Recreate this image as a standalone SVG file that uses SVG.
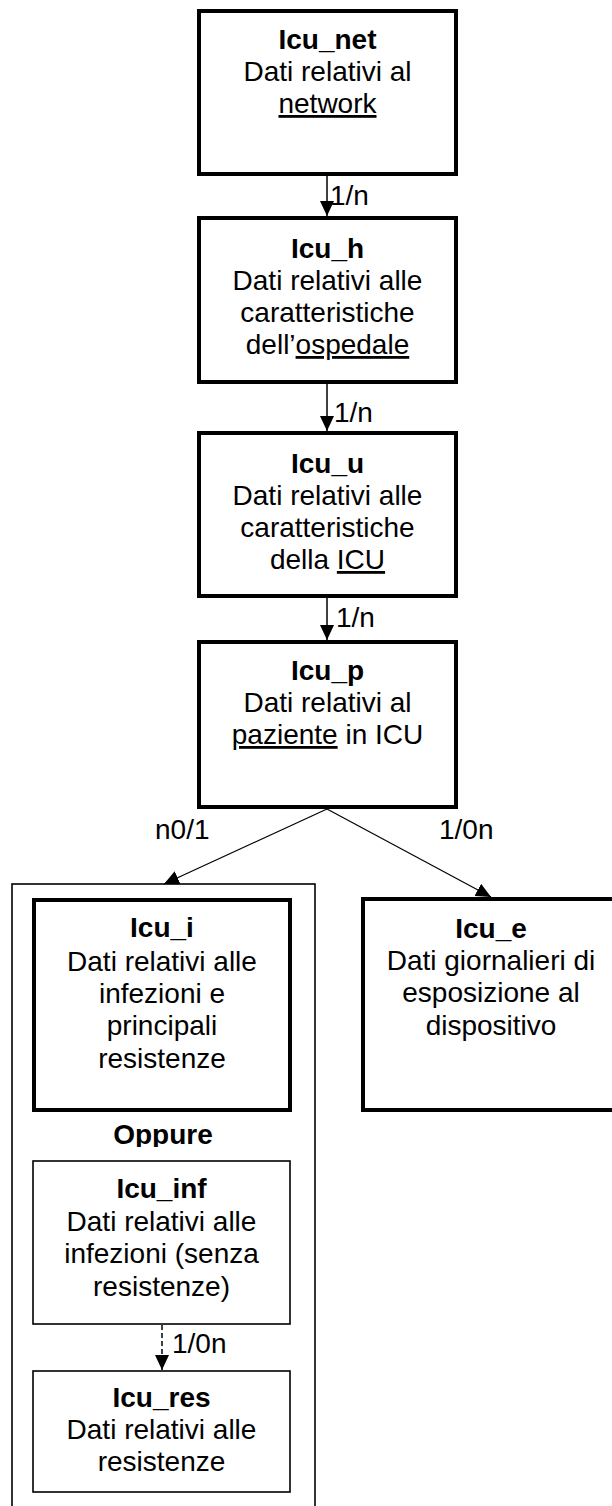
<svg xmlns="http://www.w3.org/2000/svg" width="612" height="1506" viewBox="0 0 612 1506">
  <style>
    text { font-family: "Liberation Sans", Arial, Helvetica, sans-serif; font-size: 28px; fill: #000; }
    .c { text-anchor: middle; }
    .b { font-weight: bold; }
    .u { text-decoration: underline; }
    .thick { fill: #fff; stroke: #000; stroke-width: 4; }
    .thin { fill: #fff; stroke: #000; stroke-width: 1.6; }
    .link { fill: none; stroke: #000; stroke-width: 1.5; }
    .diag { fill: none; stroke: #000; stroke-width: 1.2; }
    .dash { fill: none; stroke: #000; stroke-width: 1.5; stroke-dasharray: 5 3; }
  </style>
  <defs>
    <marker id="head" viewBox="0 0 15 14" refX="15" refY="7" markerWidth="15" markerHeight="14" markerUnits="userSpaceOnUse" orient="auto">
      <path d="M0,0 L15,7 L0,14 z" fill="#000"/>
    </marker>
    <clipPath id="clipOppure">
      <rect x="12" y="1110" width="303" height="37"/>
    </clipPath>
  </defs>

  <rect width="612" height="1506" fill="#fff"/>

  <!-- grouping frame for the infection tables -->
  <g id="group-infezioni">
    <rect x="12" y="884" width="303" height="640" class="thin"/>
  </g>

  <g id="icu_net">
    <rect x="199" y="11" width="257" height="163" class="thick"/>
    <text x="327.5" y="49" class="c b">Icu_net</text>
    <text x="327.5" y="81" class="c">Dati relativi al</text>
    <text x="327.5" y="113" class="c"><tspan class="u">network</tspan></text>
  </g>

  <g id="icu_h">
    <rect x="199" y="218" width="257" height="164" class="thick"/>
    <text x="327.5" y="258" class="c b">Icu_h</text>
    <text x="327.5" y="290" class="c">Dati relativi alle</text>
    <text x="327.5" y="322" class="c">caratteristiche</text>
    <text x="327.5" y="354" class="c">dell’<tspan class="u">ospedale</tspan></text>
  </g>

  <g id="icu_u">
    <rect x="199" y="433" width="257" height="163" class="thick"/>
    <text x="327.5" y="473" class="c b">Icu_u</text>
    <text x="327.5" y="505" class="c">Dati relativi alle</text>
    <text x="327.5" y="537" class="c">caratteristiche</text>
    <text x="327.5" y="569" class="c">della <tspan class="u">ICU</tspan></text>
  </g>

  <g id="icu_p">
    <rect x="199" y="642" width="257" height="165" class="thick"/>
    <text x="327.5" y="680" class="c b">Icu_p</text>
    <text x="327.5" y="712" class="c">Dati relativi al</text>
    <text x="327.5" y="744" class="c"><tspan class="u">paziente</tspan> in ICU</text>
  </g>

  <g id="icu_i">
    <rect x="34" y="900" width="256" height="210" class="thick"/>
    <text x="162" y="937" class="c b">Icu_i</text>
    <text x="162" y="971" class="c">Dati relativi alle</text>
    <text x="162" y="1003" class="c">infezioni e</text>
    <text x="162" y="1035" class="c">principali</text>
    <text x="162" y="1068" class="c">resistenze</text>
  </g>

  <g id="icu_e">
    <rect x="363" y="899" width="256" height="211" class="thick"/>
    <text x="491" y="938" class="c b">Icu_e</text>
    <text x="491" y="970" class="c">Dati giornalieri di</text>
    <text x="491" y="1002" class="c">esposizione al</text>
    <text x="491" y="1035" class="c">dispositivo</text>
  </g>

  <g id="oppure">
    <text x="163" y="1144" class="c b" clip-path="url(#clipOppure)">Oppure</text>
  </g>

  <g id="icu_inf">
    <rect x="33" y="1161" width="257" height="163" class="thin"/>
    <text x="161.5" y="1198" class="c b">Icu_inf</text>
    <text x="161.5" y="1231" class="c">Dati relativi alle</text>
    <text x="161.5" y="1263" class="c">infezioni (senza</text>
    <text x="161.5" y="1296" class="c">resistenze)</text>
  </g>

  <g id="icu_res">
    <rect x="33" y="1371" width="257" height="121" class="thin"/>
    <text x="161.5" y="1407" class="c b">Icu_res</text>
    <text x="161.5" y="1439" class="c">Dati relativi alle</text>
    <text x="161.5" y="1471" class="c">resistenze</text>
  </g>

  <g id="connectors">
    <line x1="327" y1="176" x2="327" y2="216" class="link" marker-end="url(#head)"/>
    <text x="330" y="205">1/n</text>

    <line x1="327" y1="384" x2="327" y2="431" class="link" marker-end="url(#head)"/>
    <text x="334" y="422">1/n</text>

    <line x1="327" y1="598" x2="327" y2="640" class="link" marker-end="url(#head)"/>
    <text x="336" y="627">1/n</text>

    <line x1="327" y1="809" x2="164" y2="884" class="diag" marker-end="url(#head)"/>
    <text x="155" y="839">n0/1</text>

    <line x1="327" y1="809" x2="491" y2="897" class="diag" marker-end="url(#head)"/>
    <text x="439" y="839">1/0n</text>

    <line x1="162" y1="1325" x2="162" y2="1370" class="dash" marker-end="url(#head)"/>
    <text x="172" y="1353">1/0n</text>
  </g>
</svg>
